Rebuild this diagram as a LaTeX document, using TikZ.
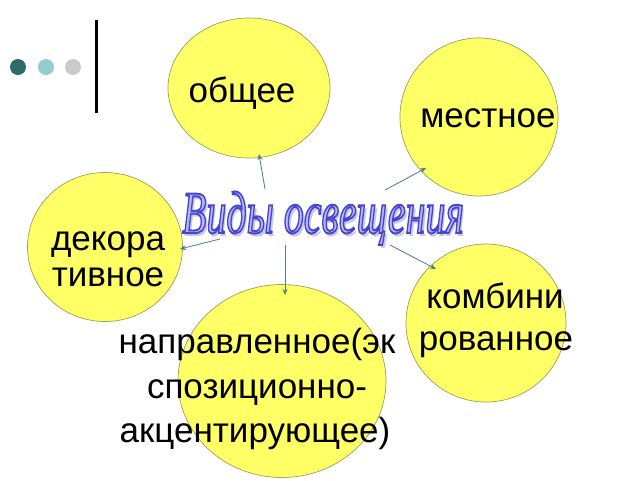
\documentclass[tikz,border=0pt]{standalone}
\usepackage{fontspec}
\setmainfont{Liberation Sans}
\newfontfamily\titlefont{Liberation Serif}
\usetikzlibrary{shapes.geometric,arrows.meta}
\definecolor{balloon}{HTML}{FFFF66}
\definecolor{rim}{HTML}{9AA05A}
\definecolor{arrowc}{HTML}{4F7F7F}
\definecolor{dotA}{HTML}{2E6B68}
\definecolor{dotB}{HTML}{93CDCD}
\definecolor{dotC}{HTML}{CACACA}
\definecolor{titlefill}{HTML}{B8B8F6}
\definecolor{titleshadow}{HTML}{C8C8E0}
\newcommand{\outlinetext}[1]{\special{pdf:literal direct 0.27 0.27 0.82 RG 1.3 w 2 Tr}#1\special{pdf:literal direct 0 Tr}}
\newcommand{\titletext}{Виды освещения}
\tikzset{
  bubble/.style={ellipse, draw=rim, fill=balloon, line width=0.7pt, inner sep=0pt},
  label35/.style={font=\fontsize{35}{40}\selectfont, anchor=base, inner sep=0pt},
  link/.style={draw=arrowc, line width=0.8pt, -{Stealth[length=6pt,width=5pt]}},
  dot/.style={circle, inner sep=0pt, minimum size=16pt},
  titlestyle/.style={font=\titlefont\itshape\fontsize{40}{44}\selectfont, anchor=base, inner sep=0pt, yscale=1.5}
}
\begin{document}
\begin{tikzpicture}[x=1pt,y=-1pt]
\useasboundingbox (0,0) rectangle (640,480);
\fill[white] (0,0) rectangle (640,480);
% decoration
\node[dot, fill=dotA] (d1) at (18,67) {};
\node[dot, fill=dotB] (d2) at (46,67) {};
\node[dot, fill=dotC] (d3) at (73,67) {};
\coordinate (barT) at (96,20);
\coordinate (barB) at (96,113);
\draw[line width=3pt, black] (barT) -- (barB);
% bubbles
\node[bubble, minimum width=162pt, minimum height=140pt] (obsh) at (249,88) {};
\node[bubble, minimum width=158pt, minimum height=158pt] (mest) at (479,117) {};
\node[bubble, minimum width=155pt, minimum height=149pt] (deko) at (105,247) {};
\node[bubble, minimum width=160pt, minimum height=158pt] (komb) at (486,323) {};
\node[bubble, minimum width=208pt, minimum height=193pt] (napr) at (282,381) {};
% labels
\node[label35] (tObsh) at (242,102) {общее};
\node[label35] (tMest) at (488,127) {местное};
\node[label35] (tDek1) at (108,250) {декора};
\node[label35] (tDek2) at (108,286) {тивное};
\node[label35] (tKom1) at (495,308) {комбини};
\node[label35] (tKom2) at (496,350) {рованное};
\node[label35] (tNap1) at (257,353) {направленное(эк};
\node[label35] (tNap2) at (257,398) {спозиционно-};
\node[label35] (tNap3) at (255,442) {акцентирующее)};
% title with shadow
\node[titlestyle] (title) at (323,233) {\makebox[0pt][l]{\hspace{2.5pt}\raisebox{-2pt}{\color{titleshadow}\titletext}}{\color{titlefill}\outlinetext{\titletext}}};
% arrows
\coordinate (s1) at (265,189); \coordinate (e1) at (259,154);
\coordinate (s2) at (385,190); \coordinate (e2) at (426,168);
\coordinate (s3) at (220,239); \coordinate (e3) at (180,249);
\coordinate (s4) at (390,245); \coordinate (e4) at (436,269);
\coordinate (s5) at (285,245); \coordinate (e5) at (285,295);
\draw[link] (s1) -- (e1);
\draw[link] (s2) -- (e2);
\draw[link] (s3) -- (e3);
\draw[link] (s4) -- (e4);
\draw[link] (s5) -- (e5);
\end{tikzpicture}
\end{document}
